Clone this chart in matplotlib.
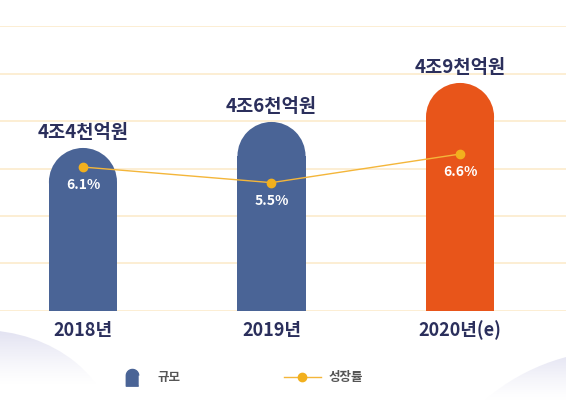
import numpy as np
import matplotlib
matplotlib.use('Agg')
import matplotlib.pyplot as plt
from matplotlib.patches import Ellipse
from matplotlib.lines import Line2D

plt.rcParams['font.family'] = ['Noto Sans CJK KR', 'DejaVu Sans']

# Data
years = ['2018년', '2019년', '2020년(e)']
market_size = [4.4, 4.6, 4.9]          # 조원
size_labels = ['4조4천억원', '4조6천억원', '4조9천억원']
growth_rate = [6.1, 5.5, 6.6]          # %
growth_labels = ['6.1%', '5.5%', '6.6%']

navy = '#4a6496'
orange = '#e8551a'
text_navy = '#2b2f5c'
grid_col = '#fcebcc'
line_col = '#f4b63a'
bar_colors = [navy, navy, orange]

W, H = 566, 405
fig = plt.figure(figsize=(W / 100, H / 100), dpi=100)
fig.patch.set_facecolor('white')

# background decoration (pixel coordinates)
bg = fig.add_axes([0, 0, 1, 1], zorder=-1)
bg.axis('off')

def soft_hill(cx, cy, w, h, fade=45, strength=0.85):
    e = Ellipse((cx, cy), w, h, facecolor='none', edgecolor='none')
    bg.add_patch(e)
    top = cy - h / 2
    n = 200
    img = np.ones((n, 2, 4))
    img[..., 0] = 0.87
    img[..., 1] = 0.87
    img[..., 2] = 0.94
    depth = np.linspace(0, h, n)
    img[..., 3] = (np.clip(1 - depth / fade, 0, 1) ** 1.3 * strength)[:, None]
    im = bg.imshow(img, extent=(cx - w / 2, cx + w / 2, top + h, top),
                   aspect='auto', interpolation='bilinear')
    im.set_clip_path(e)

soft_hill(-20, 440, 270, 220, fade=55)
soft_hill(620, 540, 400, 380, fade=50)
bg.set_xlim(0, W)
bg.set_ylim(H, 0)

# main axes
ax = fig.add_axes([0, 94 / H, 1, 285 / H])
ax.patch.set_visible(False)
lo, hi = 3.146, 5.338
ax.set_ylim(lo, hi)
x = np.arange(len(years))
ax.set_xlim(-0.44, 2.562)
ax.set_yticks(np.linspace(lo, hi, 7))
ax.grid(axis='y', color=grid_col, linewidth=1.2)
ax.set_axisbelow(True)
for s in ax.spines.values():
    s.set_visible(False)

bar_w = 0.361
r_px = 34
ry = r_px * (hi - lo) / 285
for xi, v, c in zip(x, market_size, bar_colors):
    ax.bar(xi, v - ry - lo, bottom=lo, width=bar_w, color=c, zorder=2)
    ax.add_patch(Ellipse((xi, v - ry), bar_w, 2 * ry, facecolor=c,
                         edgecolor='none', zorder=2))

for xi, v, lab in zip(x, market_size, size_labels):
    ax.annotate(lab, (xi, v), xytext=(0, 15), textcoords='offset pixels',
                ha='center', va='center', fontsize=13.5, fontweight='bold',
                color=text_navy)

for xi, lab in zip(x, years):
    ax.annotate(lab, (xi, lo), xytext=(0, -19), textcoords='offset pixels',
                ha='center', va='center', fontsize=13, fontweight='bold',
                color=text_navy, annotation_clip=False)

# growth rate line
ax2 = ax.twinx()
ax2.set_ylim(0.563, 11.525)
ax2.axis('off')
ax2.plot(x, growth_rate, color=line_col, linewidth=1, marker='o',
         markersize=6, markerfacecolor='#f2b01e', markeredgecolor='#f2b01e')
for xi, v, lab in zip(x, growth_rate, growth_labels):
    ax2.annotate(lab, (xi, v), xytext=(0, -18), textcoords='offset pixels',
                 ha='center', va='center', fontsize=10, fontweight='bold',
                 color='white')

ax.tick_params(left=False, right=False, bottom=False, top=False,
               labelleft=False, labelright=False, labelbottom=False)

# legend
t = np.linspace(0, np.pi, 20)
icon = list(zip(0.5 * np.cos(t), 0.15 + 0.5 * np.sin(t))) + [(-0.5, -0.7), (0.5, -0.7)]
handles = [
    Line2D([], [], linestyle='none', marker=icon, markersize=12.5,
           markerfacecolor=navy, markeredgecolor=navy),
    Line2D([], [], color=line_col, linewidth=1, marker='o', markersize=6,
           markerfacecolor='#f2b01e', markeredgecolor='#f2b01e'),
]
fig.legend(handles, ['규모', '성장률'], loc='center',
           bbox_to_anchor=(238 / W, 1 - 378 / H), ncol=2, frameon=False,
           handlelength=3.0, columnspacing=8.2, handletextpad=0.6,
           prop={'size': 9, 'weight': 'bold'}, labelcolor='#555555')

fig.savefig('out.png', dpi=100, facecolor='white')
